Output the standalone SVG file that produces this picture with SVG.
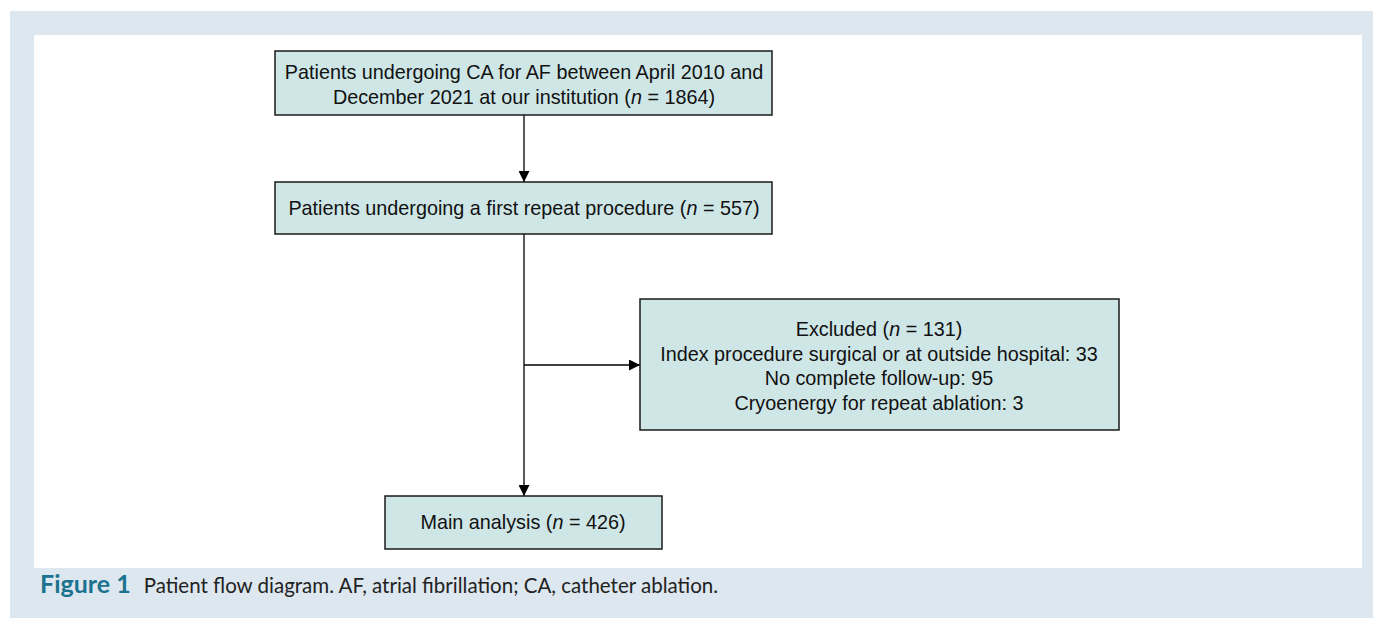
<svg xmlns="http://www.w3.org/2000/svg" width="1373" height="618" viewBox="0 0 1373 618">
<style>
.box{fill:#cfe6e7;stroke:#1a1a1a;stroke-width:1.5}
.t{font-family:"Liberation Sans",Arial,sans-serif;font-size:19.8px;fill:#111;text-anchor:middle}
.c{stroke:#000;stroke-width:1.3;fill:none}
.cap{font-family:"Lato","Open Sans",sans-serif;font-size:20.5px;fill:#222}
</style>
<defs>
<marker id="ah" viewBox="0 0 10 10" refX="10" refY="5" markerWidth="11" markerHeight="11" markerUnits="userSpaceOnUse" orient="auto">
<path d="M0,0 L10,5 L0,10 Z" fill="#000"/>
</marker>
</defs>
<rect x="0" y="0" width="1373" height="618" fill="#fff"/>
<rect x="10" y="11" width="1363" height="607" fill="#dde7ef"/>
<rect x="34" y="35" width="1328" height="533" fill="#fff"/>
<g id="connectors">
<line class="c" x1="524" y1="115" x2="524" y2="182" marker-end="url(#ah)"/>
<line class="c" x1="524" y1="234" x2="524" y2="496" marker-end="url(#ah)"/>
<line class="c" x1="524" y1="365" x2="640" y2="365" marker-end="url(#ah)"/>
</g>
<g id="n1">
<rect class="box" x="275" y="51" width="497" height="64"/>
<text class="t" x="524" y="79">Patients undergoing CA for AF between April 2010 and</text>
<text class="t" x="524" y="104">December 2021 at our institution (<tspan font-style="italic">n</tspan> = 1864)</text>
</g>
<g id="n2">
<rect class="box" x="275" y="182" width="497" height="52"/>
<text class="t" x="524" y="215">Patients undergoing a first repeat procedure (<tspan font-style="italic">n</tspan> = 557)</text>
</g>
<g id="n3">
<rect class="box" x="640" y="299" width="479" height="131"/>
<text class="t" x="879" y="336">Excluded (<tspan font-style="italic">n</tspan> = 131)</text>
<text class="t" x="879" y="361">Index procedure surgical or at outside hospital: 33</text>
<text class="t" x="879" y="385">No complete follow-up: 95</text>
<text class="t" x="879" y="410">Cryoenergy for repeat ablation: 3</text>
</g>
<g id="n4">
<rect class="box" x="385" y="496" width="277" height="53"/>
<text class="t" x="523" y="529">Main analysis (<tspan font-style="italic">n</tspan> = 426)</text>
</g>
<text class="cap" x="40" y="593"><tspan font-weight="bold" fill="#1b7390" font-size="25px">Figure 1</tspan><tspan dx="13">Patient flow diagram. AF, atrial fibrillation; CA, catheter ablation.</tspan></text>
</svg>
